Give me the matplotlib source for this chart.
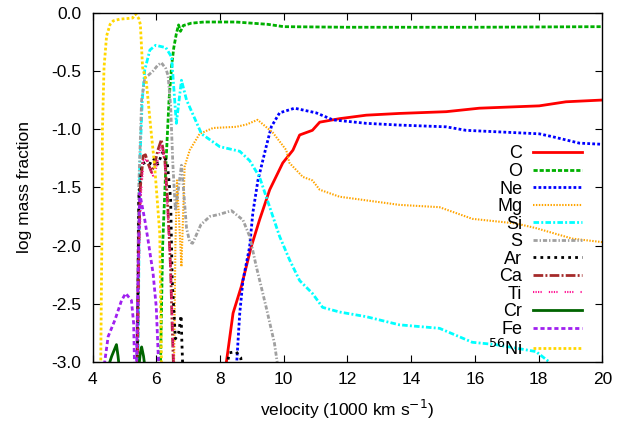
import numpy as np
import matplotlib
matplotlib.use('Agg')
import matplotlib.pyplot as plt

plt.rcParams['font.family'] = ['Liberation Sans', 'DejaVu Sans']

# velocity (1000 km/s) and log mass fraction for each element
C_v = [8.10, 8.41, 8.67, 8.98, 9.24, 9.56, 9.97, 10.29, 10.5, 10.9, 11.13, 11.75, 12.59, 13.63, 15.1, 16.14, 18.02, 18.86, 20.0]
C_y = [-3.2, -2.58, -2.35, -2.01, -1.78, -1.52, -1.29, -1.18, -1.05, -1.01, -0.94, -0.91, -0.88, -0.865, -0.85, -0.82, -0.80, -0.765, -0.75]

O_v = [6.12, 6.2, 6.3, 6.4, 6.48, 6.55, 6.63, 6.7, 6.76, 6.85, 7.1, 7.5, 8.5, 9.5, 10.0, 12.0, 16.0, 20.0]
O_y = [-3.2, -2.0, -1.32, -0.75, -0.46, -0.3, -0.18, -0.105, -0.16, -0.11, -0.09, -0.08, -0.08, -0.1, -0.12, -0.125, -0.125, -0.12]

Ne_v = [8.48, 8.62, 8.72, 8.93, 9.03, 9.19, 9.45, 9.61, 9.87, 10.34, 11.02, 11.54, 12.59, 13.63, 15.1, 15.72, 18.02, 18.44, 19.28, 20.0]
Ne_y = [-3.2, -2.58, -2.3, -2.01, -1.72, -1.44, -1.15, -0.98, -0.86, -0.82, -0.86, -0.92, -0.95, -0.965, -0.98, -1.01, -1.04, -1.065, -1.12, -1.13]

Mg_v = [6.55, 6.6, 6.65, 6.72, 6.79, 6.89, 7.05, 7.36, 7.78, 8.51, 8.83, 9.18, 9.66, 10.08, 10.18, 10.6, 10.9, 11.13, 11.75, 13.63, 14.89, 15.92, 17.3, 17.92, 19.06, 20.0]
Mg_y = [-3.2, -2.0, -1.44, -1.8, -2.18, -1.32, -1.18, -1.04, -0.99, -0.98, -0.96, -0.92, -1.03, -1.18, -1.29, -1.41, -1.44, -1.52, -1.58, -1.65, -1.67, -1.77, -1.81, -1.85, -1.94, -1.97]

Si_v = [5.42, 5.48, 5.56, 5.64, 5.8, 5.98, 6.3, 6.48, 6.63, 6.79, 6.95, 7.42, 7.99, 8.62, 8.93, 9.24, 9.45, 9.87, 10.18, 10.5, 10.9, 11.22, 11.75, 12.59, 13.63, 14.89, 15.92, 16.66, 17.92, 18.34]
Si_y = [-3.2, -1.32, -0.75, -0.49, -0.32, -0.28, -0.30, -0.38, -0.95, -0.58, -0.75, -1.04, -1.15, -1.19, -1.27, -1.41, -1.58, -1.92, -2.12, -2.3, -2.41, -2.53, -2.57, -2.61, -2.68, -2.71, -2.83, -2.85, -2.91, -3.0]

S_v = [5.38, 5.45, 5.54, 5.64, 5.74, 5.9, 6.05, 6.16, 6.3, 6.37, 6.45, 6.52, 6.6, 6.7, 6.79, 6.85, 6.95, 7.05, 7.14, 7.4, 7.68, 8.0, 8.36, 8.72, 8.93, 9.14, 9.45, 9.71, 9.9]
S_y = [-3.2, -1.5, -0.75, -0.56, -0.54, -0.5, -0.45, -0.43, -0.48, -0.54, -0.8, -1.3, -1.7, -1.5, -1.31, -1.5, -1.85, -1.97, -1.98, -1.82, -1.75, -1.73, -1.70, -1.78, -1.92, -2.18, -2.53, -2.84, -3.2]

Ar_v = [5.40, 5.45, 5.55, 5.7, 5.85, 5.95, 6.05, 6.2, 6.35, 6.45, 6.5, 6.6, 6.7, 6.78, 6.8, 6.85, 7.5, 8.15, 8.3, 8.5, 8.65, 8.75]
Ar_y = [-3.2, -1.6, -1.3, -1.28, -1.3, -1.25, -1.3, -1.2, -1.3, -1.6, -2.3, -2.8, -2.75, -2.6, -2.8, -3.2, -3.5, -3.1, -2.92, -2.91, -2.96, -3.2]

Ca_v = [5.40, 5.45, 5.5, 5.59, 5.66, 5.75, 5.85, 5.95, 6.05, 6.16, 6.27, 6.35, 6.45, 6.5, 6.56]
Ca_y = [-3.2, -2.0, -1.5, -1.23, -1.22, -1.3, -1.37, -1.3, -1.18, -1.09, -1.27, -1.6, -2.2, -2.7, -3.2]

Ti_v = [5.41, 5.46, 5.52, 5.6, 5.7, 5.8, 5.9, 6.0, 6.1, 6.17, 6.27, 6.4, 6.5, 6.57]
Ti_y = [-3.2, -2.1, -1.55, -1.27, -1.26, -1.34, -1.4, -1.33, -1.2, -1.12, -1.3, -1.9, -2.6, -3.2]

Cr_v = [4.42, 4.6, 4.75, 4.8, 4.86, 5.2, 5.43, 5.5, 5.54, 5.6, 5.67]
Cr_y = [-3.1, -2.95, -2.85, -2.95, -3.1, -3.5, -3.1, -2.92, -2.87, -2.95, -3.1]

Fe_v = [4.28, 4.49, 4.7, 4.91, 5.04, 5.22, 5.29, 5.33, 5.37, 5.43, 5.48, 5.64, 5.74, 5.9, 6.0, 6.1]
Fe_y = [-3.2, -2.78, -2.64, -2.47, -2.41, -2.47, -2.67, -3.2, -3.2, -2.2, -1.55, -1.78, -1.95, -2.24, -2.53, -3.2]

Ni_v = [4.25, 4.29, 4.31, 4.36, 4.44, 4.55, 4.65, 4.86, 5.1, 5.26, 5.35, 5.45, 5.5, 5.57, 5.69, 5.83, 5.95, 6.11, 6.17]
Ni_y = [-3.2, -2.0, -1.0, -0.47, -0.2, -0.1, -0.07, -0.055, -0.05, -0.045, -0.01, -0.05, -0.1, -0.47, -0.6, -1.0, -1.32, -1.9, -3.2]

series = [
    ('C', C_v, C_y, '#ff0000', '-', 2.0),
    ('O', O_v, O_y, '#00b000', (0, (1.5, 0.7)), 2.0),
    ('Ne', Ne_v, Ne_y, '#0000ff', (0, (1, 0.8)), 2.0),
    ('Mg', Mg_v, Mg_y, '#ffa500', (0, (0.7, 0.7)), 1.5),
    ('Si', Si_v, Si_y, '#00ffff', (0, (2, 0.8, 0.7, 0.8)), 2.0),
    ('S', S_v, S_y, '#a0a0a0', (0, (1.5, 0.7, 0.5, 0.7)), 2.0),
    ('Ar', Ar_v, Ar_y, '#000000', (0, (1, 1.5)), 2.0),
    ('Ca', Ca_v, Ca_y, '#a52a2a', (0, (3.5, 0.8, 0.7, 0.8)), 2.0),
    ('Ti', Ti_v, Ti_y, '#ff1493', (0, (0.6, 0.6, 0.6, 0.6, 0.6, 0.6, 0.6, 3.4)), 1.5),
    ('Cr', Cr_v, Cr_y, '#006400', '-', 2.0),
    ('Fe', Fe_v, Fe_y, '#a020f0', (0, (1.5, 1)), 2.0),
    ('$^{56}$Ni', Ni_v, Ni_y, '#ffd700', (0, (1, 0.8)), 2.0),
]

fig = plt.figure(figsize=(6.34, 4.23), dpi=100)
ax = fig.add_axes([0.146, 0.144, 0.804, 0.826])

for name, v, y, col, ls, lw in series:
    ax.plot(v, y, color=col, linestyle=ls, linewidth=lw, label=name)

ax.set_xlim(4, 20)
ax.set_ylim(-3.0, 0.0)
ax.set_xticks(np.arange(4, 21, 2))
ax.set_yticks(np.arange(-3.0, 0.01, 0.5))
ax.set_yticklabels(['%.1f' % t for t in np.arange(-3.0, 0.01, 0.5)])
ax.tick_params(direction='in', top=True, right=True, length=5, labelsize=12.5)
ax.tick_params(axis='x', pad=7)
ax.tick_params(axis='y', pad=8)
for sp in ax.spines.values():
    sp.set_linewidth(1.0)
ax.set_xlabel('velocity (1000 km s$^{-1}$)', fontsize=12.5, labelpad=8)
ax.set_ylabel('log mass fraction', fontsize=12.5, labelpad=14)

ax.legend(loc='upper right', bbox_to_anchor=(0.96, 0.62), frameon=False,
          markerfirst=False, fontsize=13, handlelength=2.7, labelspacing=0.03,
          borderpad=0, borderaxespad=0, handletextpad=0.6)

fig.savefig('out.png', dpi=100)
